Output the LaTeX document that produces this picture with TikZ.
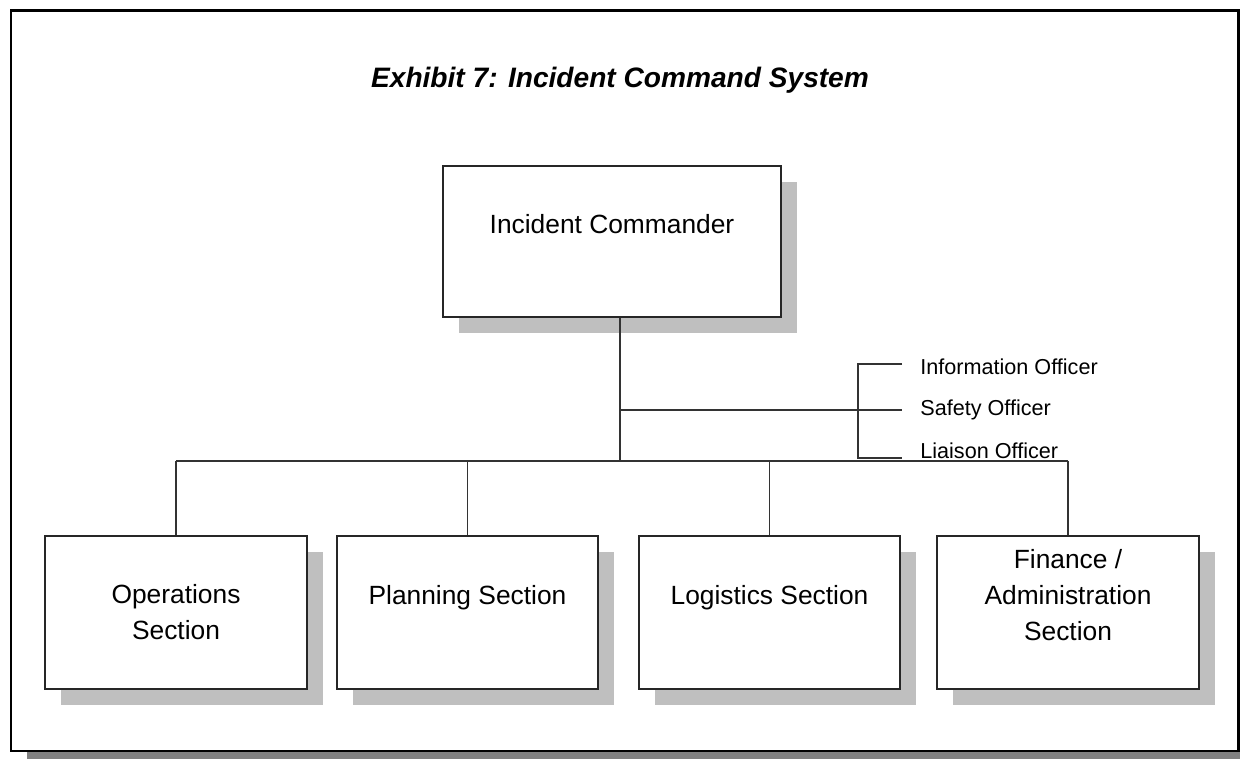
\documentclass[tikz,border=0pt]{standalone}
\usepackage{fontspec}
\setmainfont{Liberation Sans}
\usepackage{xcolor}
\usetikzlibrary{shadows}

\tikzset{
	orgbox/.style={draw=black!85, line width=1.1pt, fill=white, align=center, inner sep=0pt, minimum height=3.06cm, font=\fontsize{15}{20.5}\selectfont, general shadow={fill=black!25, shadow xshift=0.32cm, shadow yshift=-0.32cm}},
	staff/.style={anchor=west, inner xsep=0.36cm, inner ysep=0pt, font=\fontsize{12.3}{14}\selectfont},
	orgline/.style={draw=black!80, line width=1.1pt}
}

\begin{document}
\begin{tikzpicture}[x=0.02cm, y=0.02cm]
	\useasboundingbox (0,0) rectangle (1240,759);
	\fill[black!50] (27,0) rectangle (1240,7);
	\draw[line width=1.7pt] (11,8) rectangle (1238,748);
	\node[font=\fontsize{16}{19}\selectfont\bfseries\itshape] (title) at (620,679) {Exhibit 7: Incident Command System};
	
	\node[orgbox, minimum width=6.76cm, minimum height=3.02cm] (ic) at (612,517.5) {Incident Commander\\ {}};
	\node[orgbox, minimum width=5.24cm] (ops) at (176,146.5) {Operations\\Section};
	\node[orgbox, minimum width=5.22cm] (plan) at (467.5,146.5) {Planning Section\\ {}};
	\node[orgbox, minimum width=5.22cm] (log) at (769.5,146.5) {Logistics Section\\ {}};
	\node[orgbox, minimum width=5.24cm] (fin) at (1068,146.5) {Finance /\\Administration\\Section\\ {}};
	
	\node[staff] (infoof) at (902,392) {Information Officer};
	\node[staff] (safetyof) at (902,349) {Safety Officer};
	\node[staff] (liaisonof) at (902,308) {Liaison Officer};
	
	\coordinate (bus) at (620,298);
	\coordinate (stafftap) at (620,349);
	\coordinate (brtop) at (858,395);
	\coordinate (brbot) at (858,301);
	
	\draw[orgline] (ic.south -| bus) -- (bus);
	\draw[orgline] (stafftap) -- (safetyof.west);
	\draw[orgline] (brtop -| infoof.west) -- (brtop) -- (brbot) -- (brbot -| liaisonof.west);
	\draw[orgline] (bus -| ops.north) -- (bus -| fin.north);
	\draw[orgline] (bus -| ops.north) -- (ops.north);
	\draw[orgline] (bus -| plan.north) -- (plan.north);
	\draw[orgline] (bus -| log.north) -- (log.north);
	\draw[orgline] (bus -| fin.north) -- (fin.north);
\end{tikzpicture}
\end{document}
